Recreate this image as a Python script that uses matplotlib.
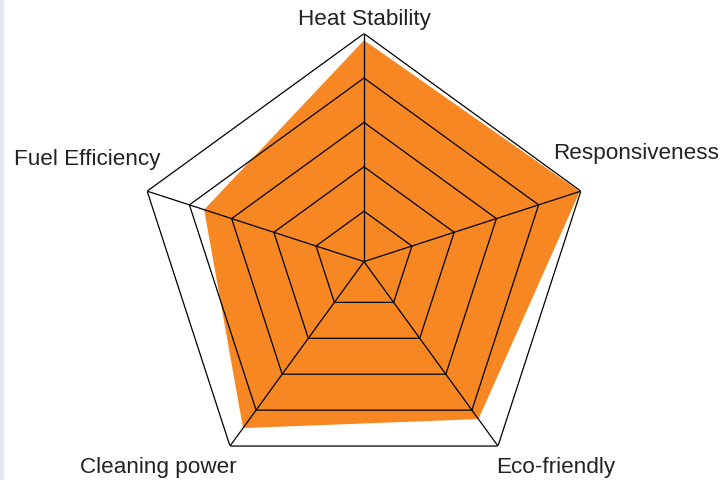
import numpy as np
import matplotlib.pyplot as plt
from matplotlib.patches import Rectangle

# categories clockwise from the top
categories = ["Heat Stability", "Responsiveness", "Eco-friendly", "Cleaning power", "Fuel Efficiency"]
values = [97, 99.5, 85, 90, 73]
rings = [20, 40, 60, 80, 100]
r_min = -2.7  # center of the chart sits a bit below 0

orange = "#F68722"

fig = plt.figure(figsize=(7.22, 4.81), dpi=100)
fig.patches.append(Rectangle((0, 0), 3 / 722, 1, transform=fig.transFigure,
                             color="#e4e6f2", zorder=0))

ax = fig.add_axes([136 / 722, -9.6 / 481, 456 / 722, 456 / 481], projection="polar")
ax.set_theta_offset(np.pi / 2)
ax.set_theta_direction(-1)
ax.set_ylim(r_min, 100)
ax.set_xticks([])
ax.set_yticks([])
ax.grid(False)
ax.spines["polar"].set_visible(False)
ax.patch.set_alpha(0)

angles = np.linspace(0, 2 * np.pi, len(categories), endpoint=False)
closed = np.append(angles, angles[0])

ax.fill(closed, values + values[:1], color=orange, lw=0, zorder=1)

for r in rings:
    ax.plot(closed, [r] * len(closed), color="black", lw=0.9, zorder=2)
for a in angles:
    ax.plot([a, a], [r_min, rings[-1]], color="black", lw=0.9, zorder=2)

txt = dict(fontsize=16.2, color="#222222", family="Liberation Sans")
fig.text(364 / 722, 1 - 19 / 481, categories[0], ha="center", va="center", **txt)
fig.text(553 / 722, 1 - 154 / 481, categories[1], ha="left", va="center", **txt)
fig.text(496 / 722, 1 - 468 / 481, categories[2], ha="left", va="center", **txt)
fig.text(237 / 722, 1 - 468 / 481, categories[3], ha="right", va="center", **txt)
fig.text(160 / 722, 1 - 159 / 481, categories[4], ha="right", va="center", **txt)

fig.savefig("out.png", dpi=100)
